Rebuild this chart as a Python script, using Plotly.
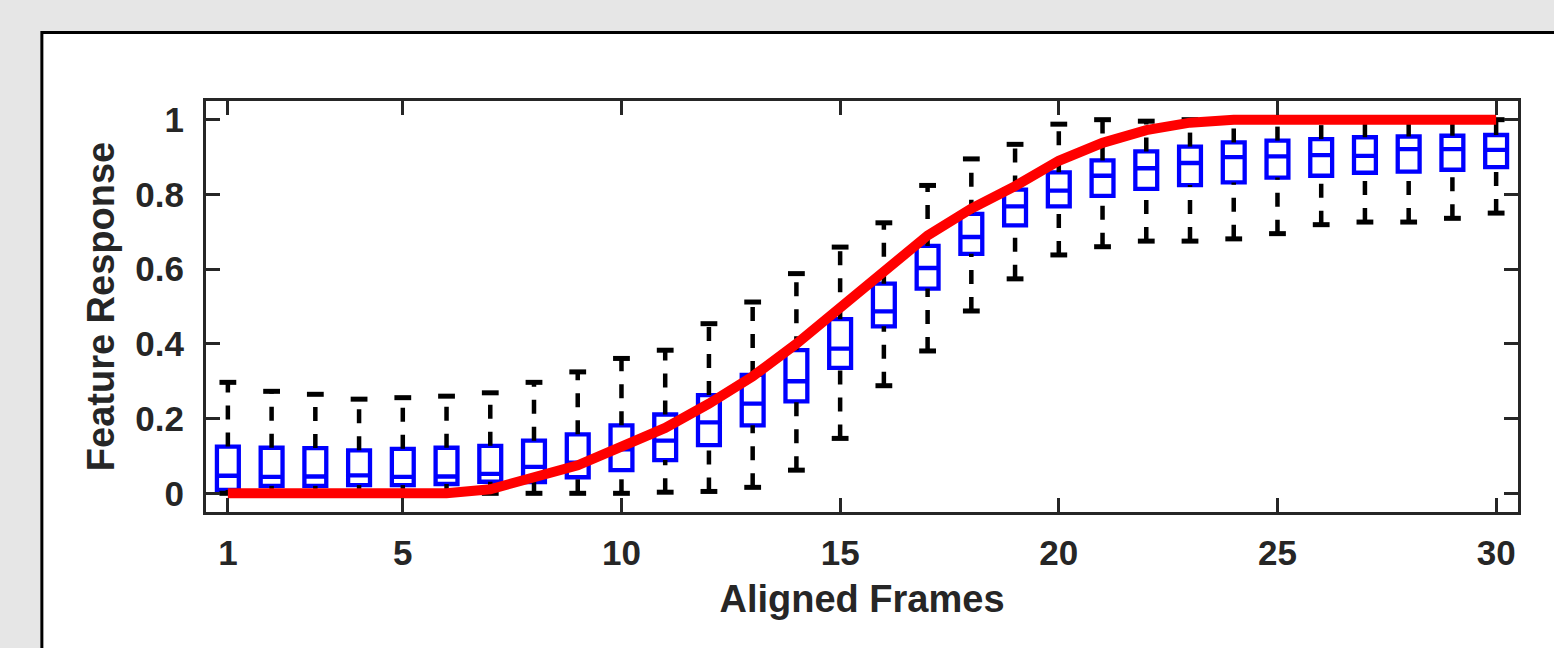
import plotly.graph_objects as go

frames = list(range(1, 31))
lower = [0.0, 0.0, 0.0, 0.0, 0.0, 0.0, 0.0, 0.0, 0.0, 0.0,
         0.003, 0.005, 0.016, 0.062, 0.147, 0.288, 0.381, 0.488, 0.574, 0.638,
         0.660, 0.675, 0.675, 0.681, 0.695, 0.719, 0.726, 0.726, 0.736, 0.750]
q1 = [0.009, 0.020, 0.020, 0.022, 0.022, 0.025, 0.031, 0.030, 0.043, 0.062,
      0.089, 0.129, 0.182, 0.246, 0.336, 0.447, 0.548, 0.641, 0.717, 0.768,
      0.796, 0.815, 0.825, 0.832, 0.845, 0.850, 0.858, 0.861, 0.866, 0.873]
median = [0.047, 0.044, 0.045, 0.048, 0.044, 0.045, 0.052, 0.071, 0.082, 0.118,
          0.141, 0.190, 0.240, 0.300, 0.387, 0.487, 0.603, 0.686, 0.768, 0.810,
          0.850, 0.870, 0.884, 0.900, 0.902, 0.905, 0.903, 0.921, 0.921, 0.919]
q3 = [0.125, 0.122, 0.121, 0.115, 0.119, 0.122, 0.127, 0.141, 0.158, 0.182,
      0.211, 0.263, 0.317, 0.383, 0.466, 0.561, 0.662, 0.748, 0.813, 0.859,
      0.891, 0.915, 0.928, 0.939, 0.944, 0.948, 0.953, 0.955, 0.957, 0.959]
upper = [0.297, 0.273, 0.265, 0.252, 0.256, 0.260, 0.269, 0.297, 0.325, 0.361,
         0.383, 0.454, 0.512, 0.588, 0.659, 0.724, 0.824, 0.895, 0.934, 0.988,
         1.0, 0.996, 1.0, 1.0, 1.0, 1.0, 1.0, 1.0, 1.0, 1.0]
fit = [0.0, 0.0, 0.0, 0.0, 0.0, 0.0, 0.011, 0.040, 0.075, 0.125,
       0.175, 0.240, 0.313, 0.400, 0.495, 0.592, 0.690, 0.762, 0.822, 0.890,
       0.938, 0.972, 0.992, 1.0, 1.0, 1.0, 1.0, 1.0, 1.0, 1.0]

x_ticks = [1, 5, 10, 15, 20, 25, 30]
y_ticks = [0, 0.2, 0.4, 0.6, 0.8, 1]
y_ticktext = ["0", "0.2", "0.4", "0.6", "0.8", "1"]

FONT = "Liberation Sans, Arial, Helvetica, sans-serif"
TXT = "#262626"
BG = "#e6e6e6"

# whisker segments (upper: from q3 up, lower: from lower up to q1)
wx, wy = [], []
for f, a, b in zip(frames, q3, upper):
    wx += [f, f, None]
    wy += [a, b, None]
for f, a, b in zip(frames, lower, q1):
    wx += [f, f, None]
    wy += [a, b, None]

fig = go.Figure()
fig.add_trace(go.Scatter(x=wx, y=wy, mode="lines", connectgaps=False,
                         line=dict(color="black", width=4.5, dash="14px,13px"),
                         hoverinfo="skip", showlegend=False))
fig.add_trace(go.Scatter(x=frames + frames, y=upper + lower, mode="markers",
                         marker=dict(symbol="line-ew", size=12,
                                     line=dict(color="black", width=5)),
                         hoverinfo="skip", showlegend=False))
fig.add_trace(go.Box(x=frames, q1=q1, median=median, q3=q3,
                     lowerfence=q1, upperfence=q3, width=0.5,
                     whiskerwidth=0, boxpoints=False,
                     line=dict(color="#0000ff", width=4.3),
                     fillcolor="rgba(0,0,0,0)", showlegend=False))
fig.add_trace(go.Scatter(x=frames, y=fit, mode="lines",
                         line=dict(color="#ff0000", width=10),
                         showlegend=False))

axis_common = dict(showline=True, linecolor=TXT, linewidth=3, mirror="ticks",
                   ticks="inside", ticklen=14, tickwidth=3, tickcolor=TXT,
                   showgrid=False, zeroline=False,
                   tickfont=dict(family=FONT, size=35, color=TXT, weight="bold"))

fig.update_layout(
    width=1554, height=648,
    margin=dict(l=206, r=36, t=101, b=136),
    paper_bgcolor=BG, plot_bgcolor="white",
    xaxis=dict(range=[0.5, 30.5], tickvals=x_ticks,
               ticklabelstandoff=8,
               title=dict(text="Aligned Frames", standoff=15,
                          font=dict(family=FONT, size=38, color=TXT, weight="bold")),
               **axis_common),
    yaxis=dict(range=[-0.05, 1.05], tickvals=y_ticks, ticktext=y_ticktext,
               ticklabelstandoff=12,
               title=dict(text="Feature Response", standoff=10,
                          font=dict(family=FONT, size=38, color=TXT, weight="bold")),
               **axis_common),
    shapes=[dict(type="rect", xref="paper", yref="paper",
                 x0=-0.1251, x1=1.08, y0=-0.5, y1=1.1665,
                 line=dict(color="black", width=3), fillcolor="white",
                 layer="below")],
)

fig.write_html("out.html", config={"displayModeBar": False},
               post_script="document.body.style.margin='0';"
                           "document.body.style.background='" + BG + "';")
